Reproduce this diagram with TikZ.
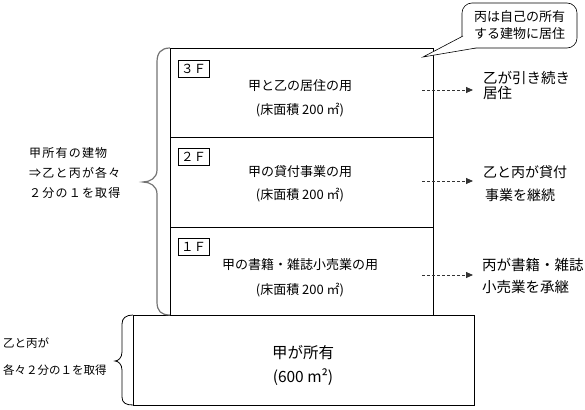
\documentclass[tikz,border=0pt]{standalone}
\usepackage{fontspec}
\setmainfont{Noto Sans CJK JP}
\usetikzlibrary{arrows.meta}
\tikzset{
  floorbox/.style={draw, line width=0.8pt, minimum width=263pt, inner sep=0pt},
  landbox/.style={draw, line width=0.8pt, minimum width=341pt, minimum height=90pt, inner sep=0pt},
  lbl/.style={draw, line width=0.6pt, inner sep=0pt, minimum width=31pt, minimum height=17pt, font=\fontsize{12.5}{14}\selectfont},
  ftext/.style={align=center, inner sep=0pt, font=\fontsize{13}{24}\selectfont},
  rtext/.style={align=left, anchor=west, inner sep=0pt},
  darrow/.style={draw=black!80, line width=0.8pt, dash pattern=on 3pt off 2pt, -{Triangle[length=7pt,width=6pt]}},
  calloutbox/.style={draw, line width=0.6pt, rounded corners=10pt, minimum width=115pt, minimum height=45pt, inner sep=0pt, align=left, font=\fontsize{13}{17}\selectfont},
}
\begin{document}
\begin{tikzpicture}[x=1pt,y=-1pt]
\useasboundingbox (0,0) rectangle (585,409);
% building floors
\node[floorbox, minimum height=89pt] (f3) at (301.5,92.5) {};
\node[floorbox, minimum height=90pt] (f2) at (301.5,182) {};
\node[floorbox, minimum height=88pt] (f1) at (301.5,271) {};
% land
\node[landbox] (land) at (303.5,360) {};
% floor labels
\node[lbl] (l3) at (193.5,68.5) {３Ｆ};
\node[lbl] (l2) at (193.5,156.5) {２Ｆ};
\node[lbl] (l1) at (193.5,246.5) {１Ｆ};
% floor texts
\node[ftext] (t3) at (300,98) {甲と乙の居住の用\\(床面積 200 ㎡)};
\node[ftext, font=\fontsize{13}{23}\selectfont] (t2) at (300,183.5) {甲の貸付事業の用\\(床面積 200 ㎡)};
\node[ftext, font=\fontsize{13}{25}\selectfont] (t1) at (300,277.5) {甲の書籍・雑誌小売業の用\\(床面積 200 ㎡)};
\node[ftext, font=\fontsize{15.5}{24}\selectfont] (tl) at (303,365) {甲が所有\\(600 m²)};
% right texts
\node[rtext, font=\fontsize{14.5}{15.5}\selectfont] (r3) at (483,85.5) {乙が引き続き\\居住};
\node[rtext, font=\fontsize{14}{23}\selectfont] (r2) at (483,183.5) {乙と丙が貸付\\\hspace{2pt}事業を継続};
\node[rtext, font=\fontsize{14.5}{22}\selectfont] (r1) at (482,276) {丙が書籍・雑誌\\小売業を承継};
% arrows
\coordinate (a3s) at (422,90);
\coordinate (a3e) at (473,90);
\coordinate (a2s) at (422,181);
\coordinate (a2e) at (473,181);
\coordinate (a1s) at (422,275);
\coordinate (a1e) at (473,275);
\draw[darrow] (a3s) -- (a3e);
\draw[darrow] (a2s) -- (a2e);
\draw[darrow] (a1s) -- (a1e);
% left texts
\node[rtext, font=\fontsize{12}{20}\selectfont\addfontfeature{LetterSpace=10}] (lb) at (29,173) {甲所有の建物\\⇒乙と丙が各々\\２分の１を取得};
\node[rtext, font=\fontsize{11.5}{27}\selectfont] (ll) at (3,356.5) {乙と丙が\\各々２分の１を取得};
% braces
\draw[black!55, line width=1.2pt] (170,48) .. controls (161,48) and (157,53) .. (157,62) -- (157,170)
  .. controls (157,178) and (150,182) .. (143,182) .. controls (150,182) and (157,186) .. (157,194)
  -- (157,302) .. controls (157,311) and (161,315) .. (170,315);
\draw[line width=0.8pt] (133,315) .. controls (126,315) and (122,318) .. (122,324) -- (122,352)
  .. controls (122,358) and (118,361) .. (115,361) .. controls (118,361) and (122,364) .. (122,370)
  -- (122,397) .. controls (122,403) and (126,405) .. (133,405);
% callout
\node[calloutbox, fill=white] (cb) at (519.5,25.5) {丙は自己の所有\\する建物に居住};
\coordinate (tip) at (423,57);
\fill[white] (463,36) -- (tip) -- (476,48) -- (472,40) -- cycle;
\draw[line width=0.6pt] (463,36) -- (tip) -- (476,48);
\end{tikzpicture}
\end{document}
